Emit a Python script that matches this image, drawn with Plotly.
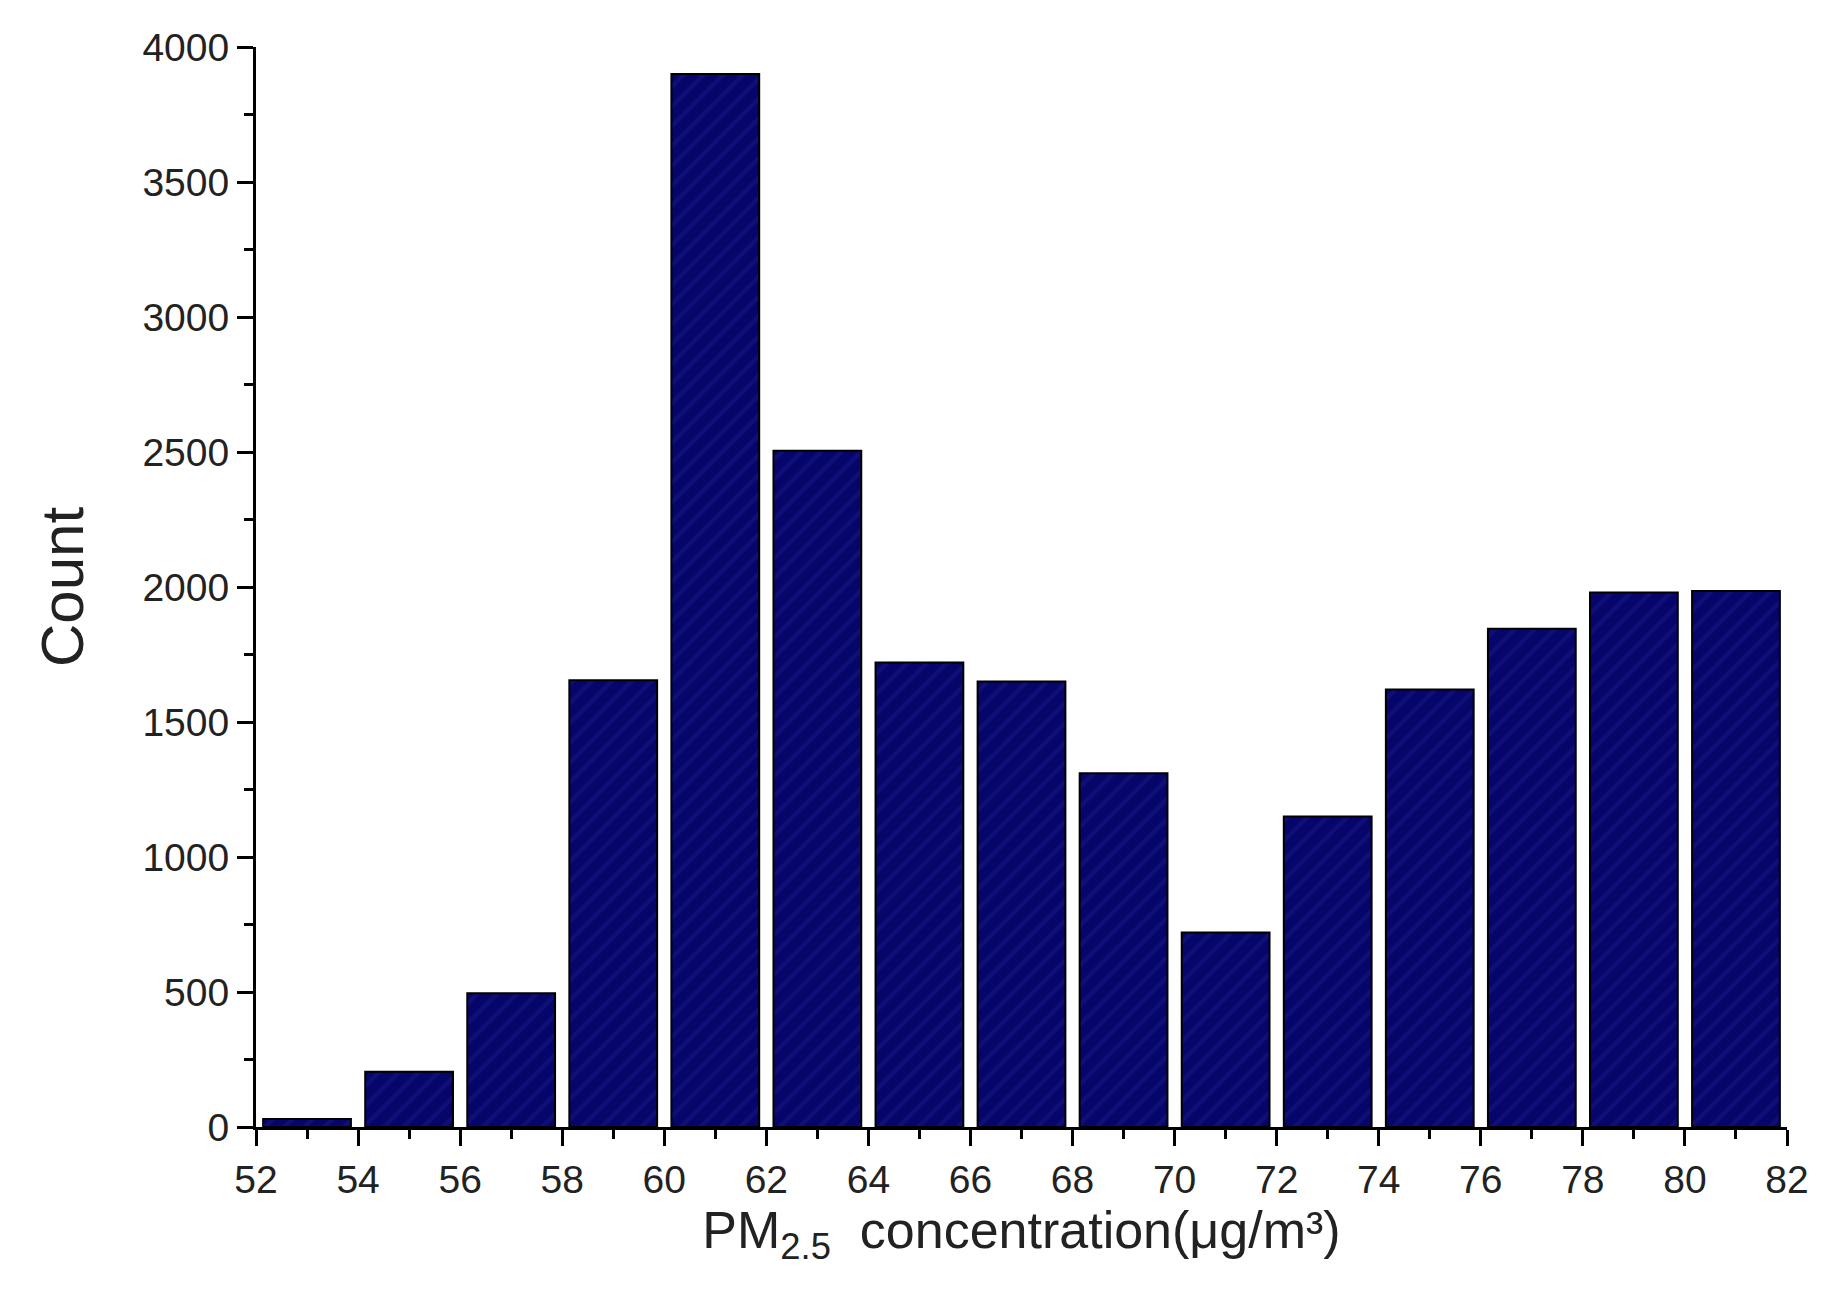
import plotly.graph_objects as go

bin_centers = [53, 55, 57, 59, 61, 63, 65, 67, 69, 71, 73, 75, 77, 79, 81]
counts = [30, 205, 495, 1655, 3900, 2505, 1720, 1650, 1310, 720, 1150, 1620, 1845, 1980, 1985]
x_ticks = list(range(52, 83, 2))
y_ticks = list(range(0, 4001, 500))

fig = go.Figure(go.Bar(
    x=bin_centers, y=counts, width=1.72,
    marker=dict(color="#05056a", line=dict(color="black", width=2),
                pattern=dict(shape="/", fgcolor="#1a1a8a", size=14, solidity=0.3)),
))
font = "Liberation Sans, Arial, sans-serif"
fig.update_layout(
    width=1839, height=1293, plot_bgcolor="white", paper_bgcolor="white",
    margin=dict(l=248, r=60, t=39, b=174), showlegend=False,
    font=dict(family=font, color="#222", size=39),
)
fig.update_xaxes(range=[52, 82], tickvals=x_ticks, ticks="outside", ticklen=16, tickwidth=3,
                 showline=True, linecolor="black", linewidth=3, showgrid=False, zeroline=False,
                 minor=dict(dtick=1, ticks="outside", ticklen=9, tickwidth=3, tickcolor="black"),
                 tickcolor="black",
                 title=dict(text="PM<sub>2.5</sub>  concentration(μg/m³)", font=dict(size=52), standoff=4))
fig.update_yaxes(range=[0, 4000], tickvals=y_ticks, ticks="outside", ticklen=16, tickwidth=3,
                 showline=True, linecolor="black", linewidth=3, showgrid=False, zeroline=False,
                 minor=dict(dtick=250, ticks="outside", ticklen=9, tickwidth=3, tickcolor="black"),
                 tickcolor="black",
                 title=dict(text="Count", font=dict(size=60), standoff=40))
fig.write_html("out.html")
